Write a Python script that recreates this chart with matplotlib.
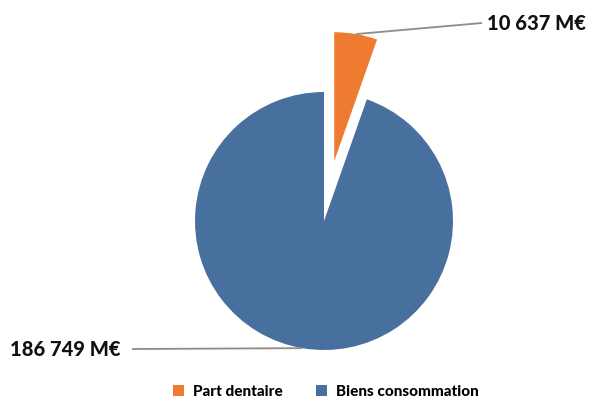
import numpy as np
import matplotlib.pyplot as plt
from matplotlib.patches import Patch

plt.rcParams['font.family'] = ['Lato', 'DejaVu Sans']

# Valeurs en millions d'euros
labels = ["Part dentaire", "Biens consommation"]
values = [10637, 186749]
value_texts = ["10 637 M€", "186 749 M€"]
colors = ["#EE7B30", "#48709E"]

W, H = 590, 399
fig = plt.figure(figsize=(W / 100, H / 100), dpi=100)
ax = fig.add_axes([0, 0, 1, 1])

center = (324, 178)
radius = 129
# pie() décale les parts en unités de données
explode = [0.47 * radius, 0]

wedges, _ = ax.pie(values, colors=colors, startangle=90, counterclock=False,
                   explode=explode, radius=radius, center=center,
                   wedgeprops=dict(linewidth=0))
ax.set_xlim(0, W)
ax.set_ylim(0, H)
ax.set_aspect("equal")
ax.axis("off")

# Lignes de rappel vers les étiquettes
label_pos = [(482, 376), (132, 50)]
for w, txt, (tx, ty) in zip(wedges, value_texts, label_pos):
    mid = np.deg2rad((w.theta1 + w.theta2) / 2)
    cx, cy = w.center
    px = cx + w.r * np.cos(mid)
    py = cy + w.r * np.sin(mid)
    ax.plot([px, tx], [py, ty], color="#8C8C8C", lw=1.3, solid_capstyle="butt")
    if tx > px:
        ax.text(tx + 5, ty, txt, ha="left", va="center", fontsize=14.5,
                fontweight="black", color="#111111")
    else:
        ax.text(tx - 11, ty, txt, ha="right", va="center", fontsize=14.5,
                fontweight="black", color="#111111")

handles = [Patch(facecolor=c, edgecolor="none", label=l) for c, l in zip(colors, labels)]
ax.legend(handles=handles, loc="center", bbox_to_anchor=(326 / W, 1 - 392 / H),
          ncol=2, frameon=False, handlelength=0.7, handleheight=0.7,
          handletextpad=0.6, columnspacing=2.2, borderpad=0,
          prop=dict(size=11, weight="black"))

fig.savefig("out.png", dpi=100)
